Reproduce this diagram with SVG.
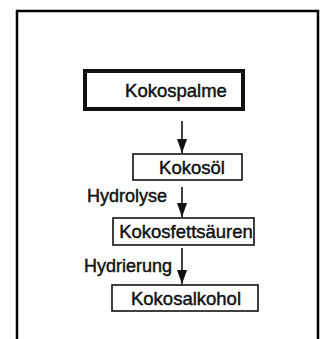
<svg xmlns="http://www.w3.org/2000/svg" width="323" height="339" viewBox="0 0 323 339">
<defs>
<style>
.box{fill:#fff;stroke:#111;stroke-width:1.6}
.thick{fill:#fff;stroke:#111;stroke-width:4}
.t{font-family:"Liberation Sans",Arial,sans-serif;font-size:18.5px;fill:#111;stroke:#111;stroke-width:0.45;text-anchor:middle}
.lbl{font-family:"Liberation Sans",Arial,sans-serif;font-size:18px;fill:#111;stroke:#111;stroke-width:0.45}
.c{stroke:#111;stroke-width:1.6;fill:none}
</style>
<marker id="ah" viewBox="0 0 14 10" refX="14" refY="5" markerWidth="14" markerHeight="10" markerUnits="userSpaceOnUse" orient="auto">
<path d="M0,0 L14,5 L0,10 Z" fill="#111"/>
</marker>
</defs>
<rect width="323" height="339" fill="#fff"/>
<path d="M17,345 L17,11 L318,11 L318,345" fill="none" stroke="#000" stroke-width="2.5"/>
<g id="connectors">
<line class="c" x1="182" y1="121" x2="182" y2="153" marker-end="url(#ah)"/>
<line class="c" x1="182" y1="187" x2="182" y2="217" marker-end="url(#ah)"/>
<line class="c" x1="182" y1="248" x2="182" y2="284" marker-end="url(#ah)"/>
<text class="lbl" x="87" y="202">Hydrolyse</text>
<text class="lbl" x="84" y="272">Hydrierung</text>
</g>
<g id="kokospalme">
<rect class="thick" x="85" y="71" width="158" height="38"/>
<text class="t" x="176" y="97">Kokospalme</text>
</g>
<g id="kokosoel">
<rect class="box" x="133" y="154" width="109" height="26"/>
<text class="t" x="192" y="174">Kokosöl</text>
</g>
<g id="kokosfettsaeuren">
<rect class="box" x="113" y="218" width="141" height="27"/>
<text class="t" x="186" y="238">Kokosfettsäuren</text>
</g>
<g id="kokosalkohol">
<rect class="box" x="112" y="285" width="146" height="26"/>
<text class="t" x="186" y="305">Kokosalkohol</text>
</g>
</svg>
